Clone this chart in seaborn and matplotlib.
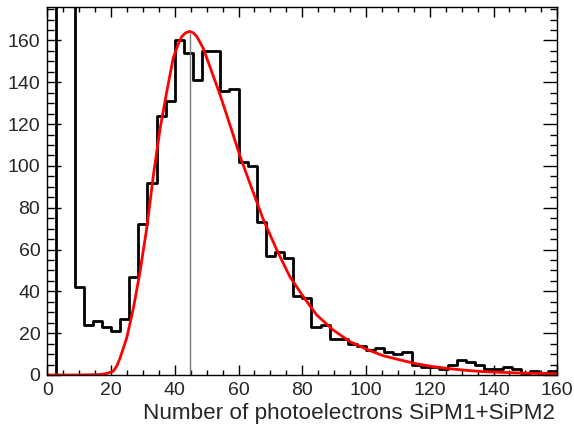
import numpy as np
import pandas as pd
import seaborn as sns
import matplotlib
matplotlib.use("Agg")
import matplotlib.pyplot as plt
from matplotlib.ticker import MultipleLocator

# histogram: 56 bins of width 200/70 starting at 0 (bins 1-2 run off the top)
bin_width = 200 / 70
counts = [0, 420, 300, 42, 24, 26, 23, 21, 27, 47,
          72, 92, 124, 131, 160, 154, 141, 155, 155, 136,
          137, 102, 100, 73, 57, 59, 56, 38, 37, 23,
          24, 17, 17, 15, 14, 12, 13, 11, 10, 11,
          5, 4, 4, 3, 5, 7, 6, 5, 3, 3,
          4, 3, 1, 2, 1, 2]

# fitted curve
fit_x = [0, 10, 16.5, 18.6, 20.7, 21.8, 22.8, 24.9, 27.0, 29.1, 31.2, 33.3, 35.4, 37.5,
         39.5, 41.0, 42.2, 43.4, 44.6, 45.8, 46.9, 48.9, 51.0, 54.2, 57.3, 60.5, 63.6,
         67.8, 72.0, 76.1, 80.3, 84.5, 89.7, 95.0, 100.2, 105.4, 110.7, 115.9,
         121.1, 126.3, 131.6, 136.8, 147.3, 158.8, 160]
fit_y = [0, 0, 0.2, 0.7, 1.8, 4.3, 8.0, 17.6, 31.9, 49.4, 70.2, 95.7, 118.0, 135.6,
         151.5, 158.0, 161.9, 163.6, 164.3, 163.6, 161.9, 156.3, 147.5, 134.0, 119.6,
         104.5, 91.5, 74.2, 59.8, 47.0, 37.5, 28.7, 21.5, 15.9, 12.3, 9.2, 7.2, 5.3,
         4.0, 3.0, 2.2, 1.6, 1.0, 0.6, 0.5]

mpv_x = 44.8
mpv_top = 163

n_bins = len(counts)
x_hi = n_bins * bin_width
centers = (np.arange(n_bins) + 0.5) * bin_width
hist_df = pd.DataFrame({"npe": centers, "n": counts})
fit_df = pd.DataFrame({"npe": fit_x, "f": fit_y})

sns.set_style("ticks")
plt.rcParams["font.family"] = ["Liberation Sans", "DejaVu Sans"]

fig = plt.figure(figsize=(5.74, 4.24), dpi=100)
ax = fig.add_axes([0.0824, 0.1156, 0.8885, 0.868])

sns.histplot(data=hist_df, x="npe", weights="n", bins=n_bins, binrange=(0, x_hi),
             element="step", fill=False, color="black", linewidth=2, ax=ax)
sns.lineplot(data=fit_df, x="npe", y="f", color="red", linewidth=2, ax=ax)
ax.plot([mpv_x, mpv_x], [0, mpv_top], color="#777777", linewidth=1)

ax.set_xlim(0, 160)
ax.set_ylim(0, 176)
ax.xaxis.set_major_locator(MultipleLocator(20))
ax.xaxis.set_minor_locator(MultipleLocator(5))
ax.yaxis.set_major_locator(MultipleLocator(20))
ax.yaxis.set_minor_locator(MultipleLocator(5))
ax.tick_params(axis="both", which="both", direction="in", top=True, right=True,
               labelsize=14, width=1, color="black")
ax.tick_params(axis="x", which="major", length=7.5, pad=5)
ax.tick_params(axis="x", which="minor", length=3.6)
ax.tick_params(axis="y", which="major", length=10, pad=5)
ax.tick_params(axis="y", which="minor", length=5)
for s in ax.spines.values():
    s.set_linewidth(1)
    s.set_color("black")

ax.set_ylabel("")
ax.set_xlabel("Number of photoelectrons SiPM1+SiPM2", fontsize=16.2)
ax.xaxis.set_label_coords(0.995, -0.104)
ax.xaxis.label.set_horizontalalignment("right")
ax.xaxis.label.set_verticalalignment("center")

fig.savefig("out.png", dpi=100)
